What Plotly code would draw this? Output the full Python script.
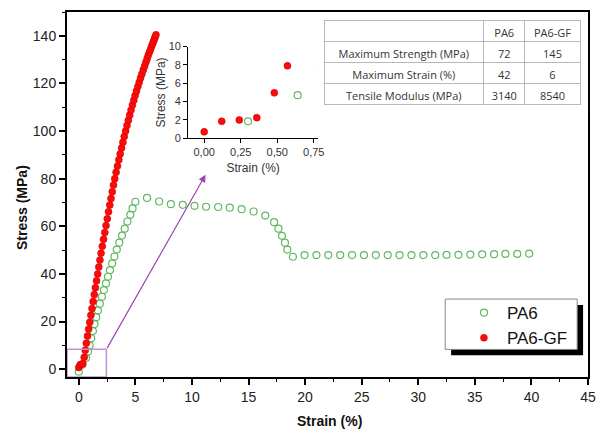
import plotly.graph_objects as go

# PA6-GF (red, filled)
gf_strain = [0.00, 0.12, 0.24, 0.36, 0.48, 0.57, 0.67, 0.77, 0.87, 0.97, 1.07, 1.17, 1.27, 1.37,
             1.47, 1.57, 1.67, 1.77, 1.87, 1.97, 2.08, 2.19, 2.30, 2.41, 2.52, 2.63, 2.74, 2.85,
             2.96, 3.07, 3.18, 3.30, 3.42, 3.54, 3.66, 3.78, 3.90, 4.02, 4.14, 4.26, 4.38, 4.50,
             4.62, 4.74, 4.86, 4.98, 5.10, 5.22, 5.34, 5.46, 5.58, 5.70, 5.82, 5.93, 6.04, 6.14,
             6.24, 6.34, 6.43, 6.52, 6.60, 6.68, 6.75, 6.82]
gf_stress = [0.7, 1.85, 2.0, 2.25, 4.95, 7.9, 10.9, 13.9, 16.8, 19.7, 22.6, 25.5, 28.4, 31.3,
             34.2, 37.1, 40.0, 42.9, 45.8, 48.7, 51.6, 54.5, 57.4, 60.3, 63.2, 66.1, 68.9, 71.7,
             74.5, 77.3, 80.0, 82.7, 85.3, 87.9, 90.4, 92.9, 95.3, 97.7, 100.0, 102.3, 104.5, 106.7,
             108.8, 110.9, 112.9, 114.9, 116.8, 118.7, 120.5, 122.3, 124.0, 125.7, 127.3, 128.9,
             130.4, 131.8, 133.1, 134.3, 135.5, 136.6, 137.6, 138.6, 139.5, 140.4]

# PA6 (green, open)
pa6_strain = [0.00, 0.30, 0.64, 0.81, 0.96, 1.10, 1.25, 1.39, 1.54, 1.69, 1.86, 2.04, 2.22, 2.40,
              2.58, 2.76, 2.95, 3.15, 3.36, 3.58, 3.82, 4.06, 4.30, 4.55, 4.75, 5.00, 6.03, 7.10,
              8.14, 9.19, 10.23, 11.25, 12.32, 13.34, 14.39, 15.45, 16.48, 17.26, 17.64, 17.96,
              18.22, 18.43, 18.92, 19.95, 21.0, 22.05, 23.1, 24.15, 25.2, 26.25, 27.3, 28.35,
              29.4, 30.45, 31.5, 32.5, 33.55, 34.6, 35.65, 36.7, 37.7, 38.75, 39.8]
pa6_stress = [-1.1, 1.85, 4.7, 7.4, 10.0, 13.0, 16.0, 18.9, 21.8, 24.6, 27.5, 30.4, 33.2, 36.0,
              38.8, 41.6, 44.4, 47.3, 50.2, 53.1, 56.1, 59.0, 62.0, 64.8, 67.5, 70.3, 71.9, 70.4,
              69.3, 69.0, 68.6, 68.2, 68.1, 67.8, 67.2, 66.2, 64.5, 61.7, 59.0, 56.0,
              53.1, 50.2, 47.2, 47.9, 47.9, 47.9, 47.9, 47.9, 47.9, 47.9, 47.9, 47.9,
              47.9, 47.9, 47.9, 48.0, 48.0, 48.1, 48.2, 48.3, 48.4, 48.4, 48.5]

x_ticks = [0, 5, 10, 15, 20, 25, 30, 35, 40, 45]
y_ticks = [0, 20, 40, 60, 80, 100, 120, 140]
inset_x_ticks = [0.0, 0.25, 0.5, 0.75]
inset_x_labels = ["0,00", "0,25", "0,50", "0,75"]
inset_y_ticks = [0, 2, 4, 6, 8, 10]

table_rows = ["Maximum Strength (MPa)", "Maximum Strain (%)", "Tensile Modulus (MPa)"]
table_pa6 = ["72", "42", "3140"]
table_gf = ["145", "6", "8540"]

GREEN = "#62b862"
RED = "#ff0a0a"
W, H = 602, 434
L, R, T, B = 67, 6, 7, 57
PW, PH = W - L - R, H - T - B

def px2x(px):
    return (px - L) / PW

def px2y(py):
    return (H - B - py) / PH

fig = go.Figure()

green_marker = dict(symbol="circle-open", size=7, color=GREEN, line=dict(color=GREEN, width=1.2))
red_marker = dict(symbol="circle", size=7, color=RED, line=dict(color="#c00000", width=0.5))

fig.add_trace(go.Scatter(x=pa6_strain, y=pa6_stress, mode="markers", name="PA6",
                         marker=green_marker, xaxis="x", yaxis="y"))
fig.add_trace(go.Scatter(x=gf_strain, y=gf_stress, mode="markers", name="PA6-GF",
                         marker=red_marker, xaxis="x", yaxis="y"))
# inset
fig.add_trace(go.Scatter(x=pa6_strain, y=pa6_stress, mode="markers", showlegend=False,
                         marker=green_marker, xaxis="x2", yaxis="y2", cliponaxis=True))
fig.add_trace(go.Scatter(x=gf_strain, y=gf_stress, mode="markers", showlegend=False,
                         marker=red_marker, xaxis="x2", yaxis="y2", cliponaxis=True))

tfont = dict(family="Open Sans", size=11, color="#333")
fig.add_trace(go.Table(
    domain=dict(x=[px2x(328), px2x(588)], y=[px2y(110), px2y(16)]),
    columnwidth=[162, 42, 56],
    header=dict(values=["", "PA6", "PA6-GF"], height=21, align="center",
                fill_color="white", line_color="#b8b8b8", font=tfont),
    cells=dict(values=[table_rows, table_pa6, table_gf], height=21, align="center",
               fill_color="white", line_color="#b8b8b8", font=tfont),
))

axis_font = dict(family="Liberation Sans, Arial", size=14, color="#222")

fig.update_layout(
    width=W, height=H,
    margin=dict(l=L, r=R, t=T, b=B),
    paper_bgcolor="white", plot_bgcolor="white",
    showlegend=True,
    xaxis=dict(range=[-1.04, 45], tickvals=x_ticks, ticks="outside", ticklen=6, tickwidth=1.5,
               tickcolor="black", showline=True, linewidth=2, linecolor="black", mirror=True,
               showgrid=False, zeroline=False, tickfont=axis_font,
               minor=dict(dtick=2.5, tick0=0, ticks="outside", ticklen=3, tickcolor="black",
                          tickwidth=1.2)),
    yaxis=dict(range=[-3.31, 150], tickvals=y_ticks, ticks="outside", ticklen=6, tickwidth=1.5,
               tickcolor="black", showline=True, linewidth=2, linecolor="black", mirror=True,
               showgrid=False, zeroline=False, tickfont=axis_font,
               minor=dict(dtick=10, tick0=0, ticks="outside", ticklen=3, tickcolor="black",
                          tickwidth=1.2)),
    xaxis2=dict(domain=[px2x(190), px2x(322)], anchor="y2", range=[-0.11, 0.78],
                tickvals=inset_x_ticks, ticktext=inset_x_labels, ticks="outside", ticklen=4,
                tickcolor="black", showline=True, linewidth=1, linecolor="black",
                showgrid=False, zeroline=False,
                tickfont=dict(family="Liberation Sans, Arial", size=11, color="#333"),
                title=dict(text="Strain (%)", standoff=6,
                           font=dict(family="Liberation Sans, Arial", size=12, color="#333"))),
    yaxis2=dict(domain=[px2y(135), px2y(42)], anchor="x2", range=[0, 10],
                tickvals=inset_y_ticks, ticks="outside", ticklen=4,
                tickcolor="black", showline=True, linewidth=1, linecolor="black",
                showgrid=False, zeroline=False,
                tickfont=dict(family="Liberation Sans, Arial", size=11, color="#333"),
                title=dict(text="Stress (MPa)", standoff=0,
                           font=dict(family="Liberation Sans, Arial", size=12, color="#333"))),
    legend=dict(x=px2x(467), y=px2y(294), xanchor="left", yanchor="top",
                bgcolor="rgba(0,0,0,0)", borderwidth=0, itemwidth=36,
                font=dict(family="Liberation Sans, Arial", size=17, color="#111")),
)

# legend frame with shadow
fig.add_shape(type="rect", xref="paper", yref="paper",
              x0=px2x(457), x1=px2x(591), y0=px2y(355), y1=px2y(304),
              fillcolor="black", line=dict(width=0), layer="above")
fig.add_shape(type="rect", xref="paper", yref="paper",
              x0=px2x(451), x1=px2x(585), y0=px2y(349), y1=px2y(298),
              fillcolor="white", line=dict(color="#888", width=1), layer="above")

# zoom box and arrow
fig.add_shape(type="rect", xref="x", yref="y", x0=-1.04, x1=2.44, y0=-3.31, y1=8.3,
              line=dict(color="#c490d4", width=1.5), layer="above")
fig.add_annotation(x=11.2, y=81.6, ax=2.44, ay=8.3, xref="x", yref="y", axref="x", ayref="y",
                   showarrow=True, arrowhead=2, arrowsize=1.2, arrowwidth=1.2,
                   arrowcolor="#9a45b5", text="")

# axis titles
fig.add_annotation(text="<b>Stress (MPa)</b>", xref="paper", yref="paper",
                   x=px2x(22), y=px2y(205), textangle=-90, showarrow=False,
                   xanchor="center", yanchor="middle",
                   font=dict(family="Liberation Sans, Arial", size=14, color="#111"))
fig.add_annotation(text="<b>Strain (%)</b>", xref="paper", yref="paper",
                   x=px2x(334), y=px2y(422), showarrow=False,
                   xanchor="center", yanchor="middle",
                   font=dict(family="Liberation Sans, Arial", size=14, color="#111"))

fig.write_html("out.html", config={"displayModeBar": False},
               post_script="document.body.style.margin='0px';document.body.style.overflow='hidden';")
